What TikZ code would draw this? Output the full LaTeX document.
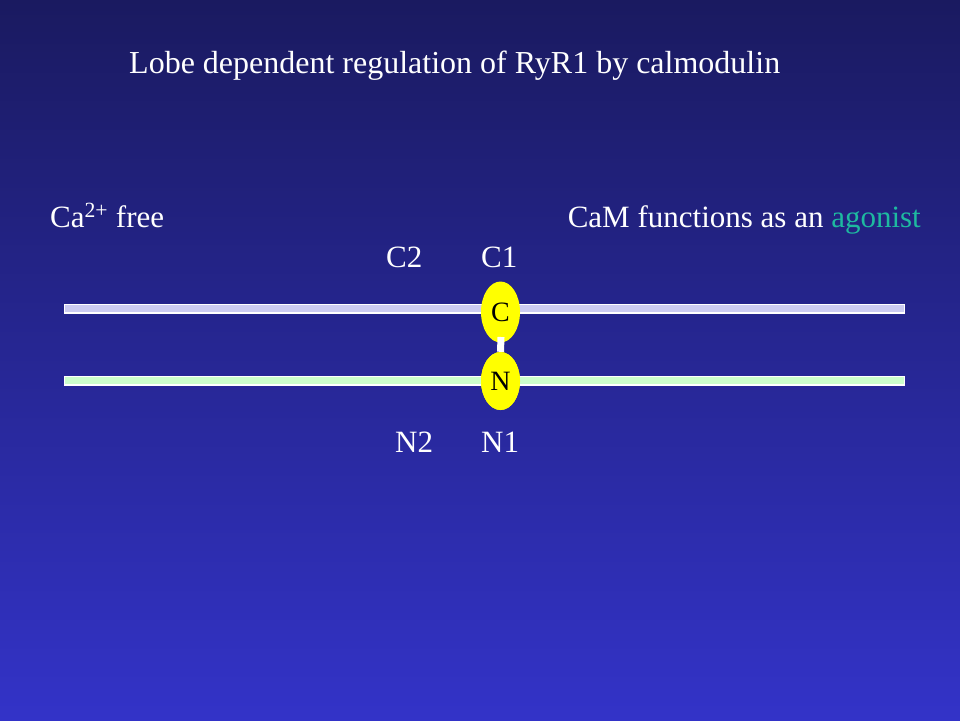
\documentclass[tikz,border=0pt]{standalone}
\usepackage{fontspec}
\setmainfont{Liberation Serif}
\usetikzlibrary{shapes.geometric}
\definecolor{bgtop}{RGB}{26,26,96}
\definecolor{bgbot}{RGB}{51,51,200}
\definecolor{barlav}{RGB}{204,204,242}
\definecolor{bargrn}{RGB}{204,255,204}
\definecolor{lobe}{RGB}{255,255,0}
\definecolor{agon}{RGB}{30,185,160}
\tikzset{
  lbl/.style={text=white, inner sep=0pt, font=\fontsize{31}{36}\selectfont, anchor=base west},
  ttl/.style={text=white, inner sep=0pt, font=\fontsize{32}{38}\selectfont, anchor=base west},
  bar/.style={draw=white, line width=1.5pt, rectangle, inner sep=0pt, minimum width=840pt, minimum height=8.5pt},
  lobenode/.style={ellipse, fill=lobe, draw=none, inner sep=0pt, minimum width=39pt, font=\fontsize{28}{32}\selectfont, text=black},
  link/.style={draw=white, line width=7pt}
}
\begin{document}
\begin{tikzpicture}[x=1pt,y=-1pt]
\useasboundingbox (0,0) rectangle (960,720);
\shade[top color=bgtop, bottom color=bgbot] (0,0) rectangle (960,720);
\node[ttl] (title) at (129,73) {Lobe dependent regulation of RyR1 by calmodulin};
\node[lbl] (cafree) at (50,227) {Ca\textsuperscript{2+} free};
\node[lbl, anchor=base east] (agonist) at (921,227) {CaM functions as an \textcolor{agon}{agonist}};
\node[lbl] (c2) at (386,267) {C2};
\node[lbl] (c1) at (481,267) {C1};
\node[lbl] (n2) at (395,452) {N2};
\node[lbl] (n1) at (481,452) {N1};
\node[bar, fill=barlav] (topbar) at (484.5,308.5) {};
\node[bar, fill=bargrn] (botbar) at (484.5,380.5) {};
\node[lobenode, minimum height=61pt] (clobe) at (500.5,312) {C};
\coordinate (clink) at (501,337);
\node[lobenode, minimum height=58pt] (nlobe) at (500.5,381) {N};
\draw[link] (clink) -- (nlobe.north);
\node[lobenode, minimum height=58pt] at (nlobe) {N};
\end{tikzpicture}
\end{document}
